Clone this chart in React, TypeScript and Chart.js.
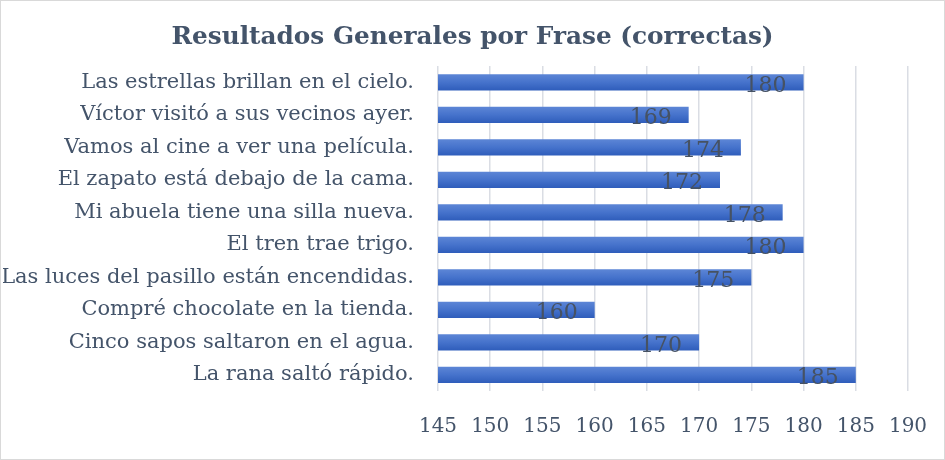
import { useEffect, useRef } from 'react';
import { Chart, registerables } from 'chart.js';

Chart.register(...registerables);

const frases = [
  'Las estrellas brillan en el cielo.',
  'Víctor visitó a sus vecinos ayer.',
  'Vamos al cine a ver una película.',
  'El zapato está debajo de la cama.',
  'Mi abuela tiene una silla nueva.',
  'El tren trae trigo.',
  'Las luces del pasillo están encendidas.',
  'Compré chocolate en la tienda.',
  'Cinco sapos saltaron en el agua.',
  'La rana saltó rápido.',
];
const correctas = [180, 169, 174, 172, 178, 180, 175, 160, 170, 185];
const ejeMin = 145;
const ejeMax = 190;
const ejePaso = 5;
const titulo = 'Resultados Generales por Frase (correctas)';

const textColor = '#44546a';
const fontFamily = "'DejaVu Serif', serif";

// vertical gradient per bar, like the Excel fill
const barGradient = {
  id: 'barGradient',
  beforeDatasetsDraw(chart: any) {
    const ctx = chart.ctx;
    chart.getDatasetMeta(0).data.forEach((el: any) => {
      const { y, height } = el.getProps(['y', 'height'], true);
      const g = ctx.createLinearGradient(0, y - height / 2, 0, y + height / 2);
      g.addColorStop(0, '#5d86d6');
      g.addColorStop(0.5, '#4673cc');
      g.addColorStop(1, '#2f5dbb');
      el.options = { ...el.options, backgroundColor: g };
    });
  },
};

const valueLabels = {
  id: 'valueLabels',
  afterDatasetsDraw(chart: any) {
    const ctx = chart.ctx;
    ctx.save();
    ctx.font = `22px ${fontFamily}`;
    ctx.fillStyle = '#465263';
    ctx.textAlign = 'right';
    ctx.textBaseline = 'middle';
    chart.getDatasetMeta(0).data.forEach((el: any, i: number) => {
      const { x, y } = el.getProps(['x', 'y'], true);
      ctx.fillText(String(correctas[i]), x - 17, y + 4);
    });
    ctx.restore();
  },
};

// title centred on the whole canvas (the plot is offset to the right)
const centredTitle = {
  id: 'centredTitle',
  afterDraw(chart: any) {
    const ctx = chart.ctx;
    ctx.save();
    ctx.font = `bold 24.75px ${fontFamily}`;
    ctx.fillStyle = textColor;
    ctx.textAlign = 'center';
    ctx.textBaseline = 'middle';
    ctx.fillText(titulo, chart.width / 2, 37);
    ctx.restore();
  },
};

export default function App() {
  const chartRef = useRef<HTMLCanvasElement>(null);
  const chartInstance = useRef<Chart | null>(null);

  useEffect(() => {
    document.body.style.margin = '0';
    if (!chartRef.current) return;
    if (chartInstance.current) chartInstance.current.destroy();
    const ctx = chartRef.current.getContext('2d');
    if (!ctx) return;

    chartInstance.current = new Chart(ctx, {
      type: 'bar',
      data: {
        labels: frases,
        datasets: [
          {
            label: 'Correctas',
            data: correctas,
            backgroundColor: '#4472c4',
            borderWidth: 0,
            barPercentage: 0.5,
            categoryPercentage: 1,
          },
        ],
      },
      options: {
        indexAxis: 'y',
        animation: false,
        responsive: true,
        maintainAspectRatio: false,
        layout: { padding: { left: 2, right: 36, top: 65, bottom: 4 } },
        plugins: {
          legend: { display: false },
          tooltip: { enabled: false },
          title: { display: false },
        },
        scales: {
          x: {
            min: ejeMin,
            max: ejeMax,
            ticks: {
              stepSize: ejePaso,
              color: textColor,
              font: { family: fontFamily, size: 20 },
              padding: 24,
            },
            grid: { color: '#dadde4', lineWidth: 1.5, drawTicks: false },
            border: { display: false },
            afterFit: (scale: any) => {
              scale.height = 64;
              scale.paddingLeft = 0;
              scale.paddingRight = 0;
            },
          },
          y: {
            ticks: {
              color: textColor,
              font: { family: fontFamily, size: 21 },
              padding: 16,
              autoSkip: false,
            },
            grid: { display: false },
            border: { display: false },
            afterFit: (scale: any) => {
              scale.width = 435;
            },
          },
        },
      },
      plugins: [barGradient, valueLabels, centredTitle],
    });

    return () => {
      if (chartInstance.current) {
        chartInstance.current.destroy();
        chartInstance.current = null;
      }
    };
  }, []);

  return (
    <div
      style={{
        position: 'fixed',
        inset: 0,
        boxSizing: 'border-box',
        border: '1px solid #d9d9d9',
        background: '#fff',
      }}
    >
      <canvas ref={chartRef} />
    </div>
  );
}
